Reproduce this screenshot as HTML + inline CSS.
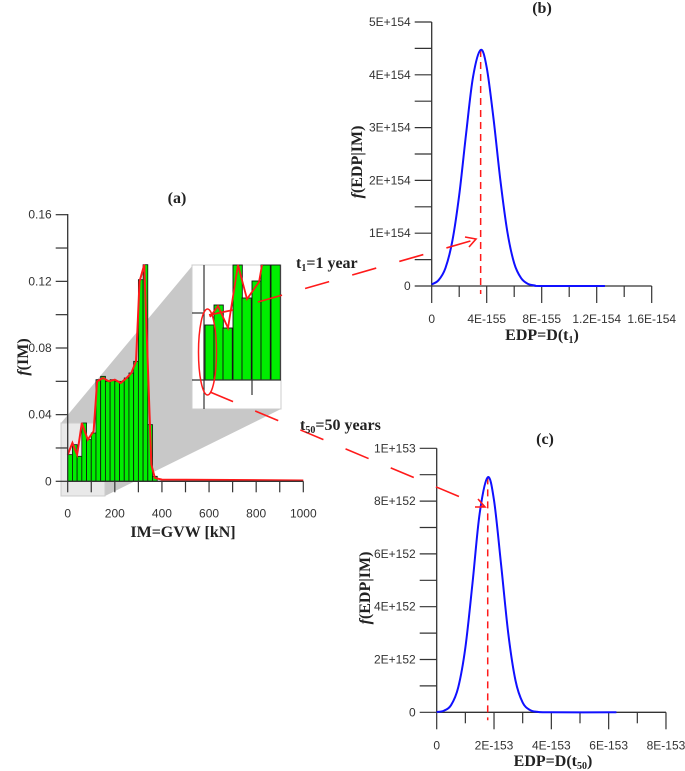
<!DOCTYPE html>
<html><head><meta charset="utf-8"><style>
body{margin:0;background:#fff}
svg{display:block}
.tk{font-family:"Liberation Sans",sans-serif;font-size:12px;fill:#333}
.tt{font-family:"Liberation Serif",serif;font-weight:bold;font-size:16px;fill:#222}
</style></head><body>
<svg id="s" width="685" height="771" viewBox="0 0 685 771">
<g id="gA"></g>
<g id="gB"></g>
<g id="gC"></g>
<g id="gAnn"></g>
</svg>
<script>
// ---- chart (a) data ----
const binStarts = [0,20,40,60,80,100,120,140,160,180,200,220,240,260,280,300,320,340,360];
const binValues = [0.016,0.022,0.015,0.035,0.025,0.029,0.061,0.063,0.060,0.061,0.060,0.060,0.062,0.065,0.072,0.121,0.130,0.034,0.003];
const kdeX = [0,20,40,60,85,110,125,150,175,200,225,250,270,290,305,325,340,355,370,400,1000];
const kdeY = [0.016,0.023,0.016,0.035,0.025,0.030,0.060,0.062,0.060,0.061,0.059,0.062,0.065,0.072,0.120,0.130,0.070,0.010,0.002,0.001,0.0005];
const aXTicks = [0,200,400,600,800,1000];
const aYTicks = [0,0.04,0.08,0.12,0.16];
const aYLabels = ["0","0.04","0.08","0.12","0.16"];
// ---- chart (b) data (x in 1E-155, y in 1E154) ----
const bX = [0,0.5,1,1.5,2,2.5,3,3.56,4,4.5,5,5.5,6,6.5,7,7.5,8,12.6];
const bY = [0.03,0.11,0.34,0.85,1.72,2.88,3.95,4.47,4.14,3.16,1.99,1.03,0.43,0.15,0.04,0.01,0,0];
const bMedian = 3.56;
const bXLabels = ["0","4E-155","8E-155","1.2E-154","1.6E-154"];
const bXTickVals = [0,4,8,12,16];
const bYLabels = ["0","1E+154","2E+154","3E+154","4E+154","5E+154"];
const bYTickVals = [0,1,2,3,4,5];
// ---- chart (c) data (x in 1E-153, y in 1E152) ----
const cX = [0,0.25,0.5,0.75,1,1.25,1.5,1.78,2,2.25,2.5,2.75,3,3.25,3.5,4,6.27];
const cY = [0.01,0.06,0.27,0.94,2.45,4.9,7.54,8.9,8.03,5.56,2.96,1.2,0.37,0.09,0.02,0,0];
const cMedian = 1.78;
const cXLabels = ["0","2E-153","4E-153","6E-153","8E-153"];
const cXTickVals = [0,2,4,6,8];
const cYLabels = ["0","2E+152","4E+152","6E+152","8E+152","1E+153"];
const cYTickVals = [0,2,4,6,8,10];

const NS="http://www.w3.org/2000/svg";
function mk(tag,parent,attrs,text){const e=document.createElementNS(NS,tag);for(const k in attrs)e.setAttribute(k,attrs[k]);if(text!==undefined)e.textContent=text;parent.appendChild(e);return e;}
function smooth(pts){let d="M"+pts[0][0]+","+pts[0][1];for(let i=0;i<pts.length-1;i++){const p0=pts[Math.max(0,i-1)],p1=pts[i],p2=pts[i+1],p3=pts[Math.min(pts.length-1,i+2)];const c1=[p1[0]+(p2[0]-p0[0])/6,p1[1]+(p2[1]-p0[1])/6],c2=[p2[0]-(p3[0]-p1[0])/6,p2[1]-(p3[1]-p1[1])/6];d+=` C${c1[0]},${c1[1]} ${c2[0]},${c2[1]} ${p2[0]},${p2[1]}`;}return d;}

// ===== chart A =====
(function(){
const g=document.getElementById('gA');
const x0=67.7,y0=481.3,xs=235.6/1000,ys=266.6/0.16;
const X=v=>x0+v*xs,Y=v=>y0-v*ys;
let e;
e=mk('polygon',g,{points:"61,423 193,265 281,265 281,409 105,496 61,496",fill:"#c8c8c8"});


e=mk('rect',g,{x:61,y:423,width:44,height:73,fill:"#fff","fill-opacity":0.6,stroke:"#ccc"});


binStarts.forEach((b,i)=>{const r=mk('rect',g,{x:X(b),y:Y(binValues[i]),width:X(b+20)-X(b),height:y0-Y(binValues[i]),fill:"#00ee00",stroke:"#111","stroke-width":0.8});

});
e=mk('polyline',g,{points:kdeX.map((v,i)=>X(v)+","+Y(kdeY[i])).join(" "),fill:"none",stroke:"#ff1a1a","stroke-width":2});


mk('line',g,{x1:x0,y1:214,x2:x0,y2:y0,stroke:"#333","stroke-width":1.3});
mk('line',g,{x1:x0,y1:y0,x2:X(1000),y2:y0,stroke:"#333","stroke-width":1.3});
for(let v=0;v<=0.1601;v+=0.02)mk('line',g,{x1:x0-12,y1:Y(v),x2:x0,y2:Y(v),stroke:"#333","stroke-width":1.2});
for(let v=0;v<=1000;v+=100)mk('line',g,{x1:X(v),y1:y0,x2:X(v),y2:y0+11,stroke:"#333","stroke-width":1.2});
aYTicks.forEach((v,i)=>{const t=mk('text',g,{x:x0-16,y:Y(v)+4,"text-anchor":"end",class:"tk"},aYLabels[i]);});
aXTicks.forEach(v=>{const t=mk('text',g,{x:X(v),y:y0+36,"text-anchor":"middle",class:"tk"},String(v));});
e=mk('text',g,{x:177,y:203,"text-anchor":"middle",class:"tt"},"(a)");
e=mk('text',g,{x:183,y:537,"text-anchor":"middle",class:"tt"},"IM=GVW [kN]");
e=mk('text',g,{x:0,y:0,"text-anchor":"middle",class:"tt",transform:"translate(28,357) rotate(-90)"});e.innerHTML='<tspan font-style="italic">f</tspan>(IM)';
// inset
const ins=mk('g',g,{});
mk('rect',ins,{x:192,y:265,width:89,height:144,fill:"#fff",stroke:"#ccc"});
const ib=[[205,325],[214,305],[223,328],[233,265],[242,298],[252,281],[261,265],[271,265]];
ib.forEach(b=>mk('rect',ins,{x:b[0],y:b[1],width:9.3,height:380-b[1],fill:"#00ee00",stroke:"#111","stroke-width":0.9}));
mk('line',ins,{x1:204,y1:265,x2:204,y2:409,stroke:"#333","stroke-width":1.2});
mk('line',ins,{x1:192,y1:380,x2:281,y2:380,stroke:"#333","stroke-width":1.2});
mk('line',ins,{x1:192,y1:313,x2:204,y2:313,stroke:"#333","stroke-width":1.2});
mk('line',ins,{x1:252,y1:380,x2:252,y2:395,stroke:"#333","stroke-width":1.2});
mk('polyline',ins,{points:"210,317 218,306 228,328 238,265 247,299 259,282 262,265",fill:"none",stroke:"#ff1a1a","stroke-width":1.8});
mk('line',ins,{x1:209,y1:315,x2:233,y2:310,stroke:"#ff1a1a","stroke-width":1.8});
mk('ellipse',ins,{cx:207.5,cy:352,rx:9,ry:43,fill:"none",stroke:"#ff1a1a","stroke-width":1.5});
})();

function curveChart(gid,o){
const g=document.getElementById(gid);
const X=v=>o.x0+v*o.xs,Y=v=>o.y0-v*o.ys;
let e;
mk('line',g,{x1:o.x0,y1:Y(o.yTop),x2:o.x0,y2:o.y0,stroke:"#333","stroke-width":1.3});
mk('line',g,{x1:o.x0,y1:o.y0,x2:X(o.xMax),y2:o.y0,stroke:"#333","stroke-width":1.3});
for(let v=0;v<=o.yTop+1e-9;v+=o.yMinor)mk('line',g,{x1:o.x0-17,y1:Y(v),x2:o.x0,y2:Y(v),stroke:"#333","stroke-width":1.2});
for(let v=0;v<=o.xMax+1e-9;v+=o.xMinor)mk('line',g,{x1:X(v),y1:o.y0,x2:X(v),y2:o.y0+(Math.abs(v%o.xMajor)<1e-9?17:11),stroke:"#333","stroke-width":1.2});
o.yv.forEach((v,i)=>{const t=mk('text',g,{x:o.x0-21,y:Y(v)+4,"text-anchor":"end",class:"tk"},o.yl[i]);});
o.xv.forEach((v,i)=>{const t=mk('text',g,{x:X(v),y:o.y0+37,"text-anchor":"middle",class:"tk"},o.xl[i]);});
e=mk('line',g,{x1:X(o.med),y1:Y(o.peak),x2:X(o.med),y2:o.y0+8,stroke:"#ff1a1a","stroke-width":1.5,"stroke-dasharray":"7,5"});

e=mk('path',g,{d:smooth(o.xs_.map((v,i)=>[X(v),Y(o.ys_[i])])),fill:"none",stroke:"#1010ff","stroke-width":2});

e=mk('text',g,{x:o.tx,y:o.ty,"text-anchor":"middle",class:"tt"},o.title);
e=mk('text',g,{x:o.ax,y:o.ay,"text-anchor":"middle",class:"tt"});e.innerHTML=o.xtitle;
e=mk('text',g,{x:0,y:0,"text-anchor":"middle",class:"tt",transform:`translate(${o.yx},${o.yy}) rotate(-90)`});e.innerHTML='<tspan font-style="italic">f</tspan>(EDP|IM)';
}
curveChart('gB',{x0:431.7,y0:286,xs:55/4,ys:52.8,yTop:5,yMinor:0.5,xMax:16,xMinor:2,xMajor:4,yv:bYTickVals,yl:bYLabels,xv:bXTickVals,xl:bXLabels,med:bMedian,peak:Math.max(...bY),xs_:bX,ys_:bY,tx:542,ty:13,title:"(b)",ax:542,ay:340,xtitle:'EDP=D(t<tspan font-size="10" dy="3">1</tspan><tspan dy="-3">)</tspan>',yx:362,yy:162});
curveChart('gC',{x0:436.7,y0:712.3,xs:28.66,ys:26.4,yTop:10,yMinor:1,xMax:8,xMinor:1,xMajor:2,yv:cYTickVals,yl:cYLabels,xv:cXTickVals,xl:cXLabels,med:cMedian,peak:Math.max(...cY),xs_:cX,ys_:cY,tx:545,ty:444,title:"(c)",ax:553,ay:766,xtitle:'EDP=D(t<tspan font-size="10" dy="3">50</tspan><tspan dy="-3">)</tspan>',yx:370,yy:588});

// annotations
(function(){
const g=document.getElementById('gAnn');let e;
e=mk('line',g,{x1:258,y1:302,x2:474,y2:240,stroke:"#ff1a1a","stroke-width":1.6,"stroke-dasharray":"25,24"});
mk('polyline',g,{points:"465,237 476,239 469,247",fill:"none",stroke:"#ff1a1a","stroke-width":1.6});
e=mk('line',g,{x1:210,y1:392,x2:484,y2:507,stroke:"#ff1a1a","stroke-width":1.6,"stroke-dasharray":"25,24"});
mk('polyline',g,{points:"478,499 485,507 475,507",fill:"none",stroke:"#ff1a1a","stroke-width":1.6});
e=mk('text',g,{x:296,y:268,class:"tt"});e.innerHTML='t<tspan font-size="10" dy="3">1</tspan><tspan dy="-3">=1 year</tspan>';
e=mk('text',g,{x:300,y:430,class:"tt"});e.innerHTML='t<tspan font-size="10" dy="3">50</tspan><tspan dy="-3">=50 years</tspan>';
})();
</script>
</body></html>
